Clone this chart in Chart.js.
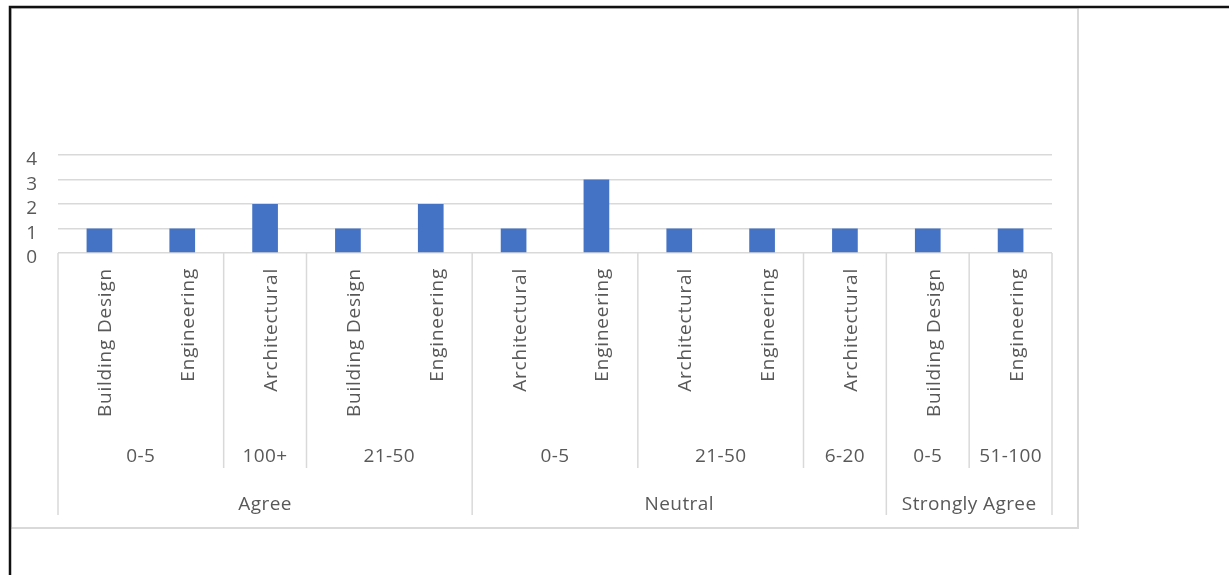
<!DOCTYPE html>
<html>
<head>
<meta charset="utf-8">
<script src="https://cdn.jsdelivr.net/npm/chart.js@4/dist/chart.umd.min.js"></script>
<style>
  html, body { margin: 0; padding: 0; background: #ffffff; }
  #wrap { width: 1229px; height: 575px; position: relative; }
</style>
</head>
<body>
<div id="wrap"><canvas id="c" width="1229" height="575"></canvas></div>
<script>
// Bottom-level categories (field of work)
const categories = ['Building Design', 'Engineering', 'Architectural', 'Building Design', 'Engineering',
  'Architectural', 'Engineering', 'Architectural', 'Engineering', 'Architectural',
  'Building Design', 'Engineering'];
// Middle-level categories (years of experience)
const experience = ['0-5', '0-5', '100+', '21-50', '21-50',
  '0-5', '0-5', '21-50', '21-50', '6-20',
  '0-5', '51-100'];
// Top-level categories (response)
const responses = ['Agree', 'Agree', 'Agree', 'Agree', 'Agree',
  'Neutral', 'Neutral', 'Neutral', 'Neutral', 'Neutral',
  'Strongly Agree', 'Strongly Agree'];
// Number of respondents
const counts = [1, 1, 2, 1, 2, 1, 3, 1, 1, 1, 1, 1];
// Value axis ticks
const yTicks = [0, 1, 2, 3, 4];

const FONT = '"Open Sans", "Noto Sans", sans-serif';
const TEXT = '#595959';
const LINE = '#D9D9D9';

// Outer frame and chart border
const framePlugin = {
  id: 'frame',
  beforeDraw(chart) {
    const ctx = chart.ctx;
    ctx.save();
    ctx.fillStyle = '#ffffff';
    ctx.fillRect(0, 0, chart.width, chart.height);
    ctx.strokeStyle = LINE;
    ctx.lineWidth = 2;
    ctx.strokeRect(11, 8, 1067, 520);
    ctx.strokeStyle = '#111111';
    ctx.lineWidth = 2.5;
    ctx.beginPath();
    ctx.moveTo(10, chart.height + 5);
    ctx.lineTo(10, 7);
    ctx.lineTo(chart.width + 5, 7);
    ctx.stroke();
    ctx.restore();
  }
};

// Multi-level category axis drawn from the x scale positions
const multiAxisPlugin = {
  id: 'multiAxis',
  afterDraw(chart) {
    const ctx = chart.ctx;
    const xs = chart.scales.x;
    const area = chart.chartArea;
    const n = categories.length;
    const px = i => xs.getPixelForValue(i);
    const edge = i => (i === 0 ? area.left : (i === n ? area.right : (px(i - 1) + px(i)) / 2));
    const top = area.bottom;

    ctx.save();
    ctx.strokeStyle = LINE;
    ctx.lineWidth = 1.5;
    // separators
    for (let i = 0; i <= n; i++) {
      const topChange = i === 0 || i === n || responses[i] !== responses[i - 1];
      const midChange = topChange || experience[i] !== experience[i - 1];
      if (!midChange) continue;
      const x = edge(i);
      ctx.beginPath();
      ctx.moveTo(x, top);
      ctx.lineTo(x, topChange ? 515 : 468);
      ctx.stroke();
    }

    ctx.fillStyle = TEXT;
    // rotated bottom-level labels
    ctx.font = '19px ' + FONT;
    ctx.letterSpacing = '0.8px';
    for (let i = 0; i < n; i++) {
      ctx.save();
      ctx.translate(px(i) + 12, 268);
      ctx.rotate(-Math.PI / 2);
      ctx.textAlign = 'right';
      ctx.textBaseline = 'alphabetic';
      ctx.fillText(categories[i], 0, 0);
      ctx.restore();
    }

    // grouped labels
    ctx.font = '19px ' + FONT;
    ctx.letterSpacing = '0.4px';
    const drawRuns = (keyFn, labelFn, y) => {
      let start = 0;
      for (let i = 1; i <= n; i++) {
        if (i === n || keyFn(i) !== keyFn(start)) {
          const cx = (edge(start) + edge(i)) / 2;
          ctx.textAlign = 'center';
          ctx.textBaseline = 'middle';
          ctx.fillText(labelFn(start), cx, y);
          start = i;
        }
      }
    };
    drawRuns(i => responses[i] + '|' + experience[i], i => experience[i], 457);
    drawRuns(i => responses[i], i => responses[i], 505);
    ctx.restore();
  }
};

new Chart(document.getElementById('c'), {
  type: 'bar',
  data: {
    labels: categories.map((c, i) => [c, experience[i], responses[i]]),
    datasets: [{
      data: counts,
      backgroundColor: '#4472C4',
      borderWidth: 0,
      categoryPercentage: 1,
      barPercentage: 0.31
    }]
  },
  options: {
    responsive: false,
    animation: false,
    devicePixelRatio: 1,
    layout: { padding: { left: 0, top: 155, right: 177, bottom: 322 } },
    plugins: { legend: { display: false }, tooltip: { enabled: false } },
    scales: {
      x: { display: false },
      y: {
        min: yTicks[0],
        max: yTicks[yTicks.length - 1],
        afterFit(scale) { scale.width = 58; },
        afterBuildTicks(scale) { scale.ticks = yTicks.map(v => ({ value: v })); },
        border: { display: false },
        grid: { color: LINE, lineWidth: 1.5, drawTicks: false },
        ticks: {
          autoSkip: false,
          padding: 21,
          labelOffset: 5,
          color: TEXT,
          font: { family: FONT, size: 19 }
        }
      }
    }
  },
  plugins: [framePlugin, multiAxisPlugin]
});
</script>
</body>
</html>
